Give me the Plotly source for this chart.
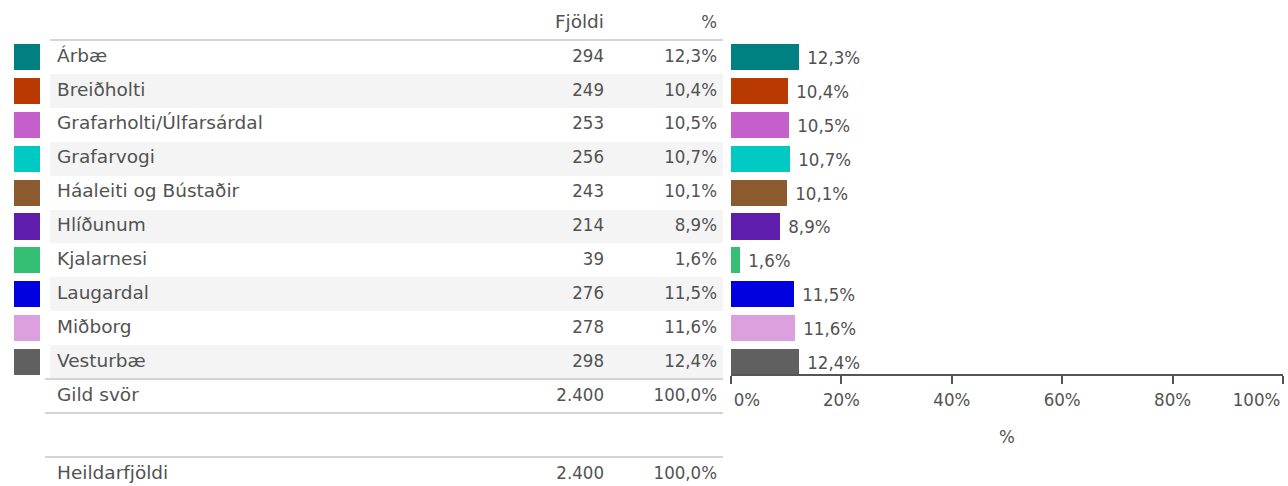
import plotly.graph_objects as go

# data
categories = ['Árbæ', 'Breiðholti', 'Grafarholti/Úlfarsárdal', 'Grafarvogi',
              'Háaleiti og Bústaðir', 'Hlíðunum', 'Kjalarnesi', 'Laugardal',
              'Miðborg', 'Vesturbæ']
counts = [294, 249, 253, 256, 243, 214, 39, 276, 278, 298]
percents = [12.3, 10.4, 10.5, 10.7, 10.1, 8.9, 1.6, 11.5, 11.6, 12.4]
colors = ['#008080', '#b83a00', '#c55fcb', '#00c8c3', '#8b5a2e',
          '#5f1dab', '#35bf74', '#0000e0', '#dda0df', '#606060']
summary_labels = ['Gild svör', 'Heildarfjöldi']
summary_counts = [2400, 2400]
summary_percents = [100.0, 100.0]
header = ['Fjöldi', '%']
ticks = [0, 20, 40, 60, 80, 100]

W, H = 1288, 486
ROW0, ROW_H = 57, 33.9
TXT = '#525252'
FONT = 'DejaVu Sans'
NUMFONT = 'DejaVu Sans Condensed, DejaVu Sans'
FS = 18.5
NB = '\u00a0'


def fmt_pct(p):
    return f'{p:.1f}'.replace('.', ',') + '%'


def fmt_n(n):
    return f'{n:,}'.replace(',', '.')


rows = list(range(len(categories)))
summary_rows = [len(categories), len(categories) + 2.3]

fig = go.Figure()

# alternating row background
fig.add_trace(go.Bar(orientation='h', y=rows, x=[673] * len(rows), base=50,
                     width=1, marker=dict(color=['#ffffff' if i % 2 == 0 else '#f4f4f4' for i in rows], line_width=0),
                     hoverinfo='skip', showlegend=False))
# colour swatches
fig.add_trace(go.Bar(orientation='h', y=rows, x=[26] * len(rows), base=14,
                     width=0.77, marker=dict(color=colors, line_width=0),
                     hoverinfo='skip', showlegend=False))

all_rows = rows + summary_rows
fig.add_trace(go.Scatter(x=[57] * len(all_rows), y=all_rows, mode='text',
                         text=categories + summary_labels, textposition='middle right',
                         textfont=dict(family=FONT, size=FS, color=TXT),
                         hoverinfo='skip', showlegend=False))
fig.add_trace(go.Scatter(x=[604], y=[-1.0], mode='text', text=[header[0]],
                         textposition='middle left',
                         textfont=dict(family=FONT, size=FS, color=TXT),
                         hoverinfo='skip', showlegend=False))
fig.add_trace(go.Scatter(x=[604] * len(all_rows), y=all_rows, mode='text',
                         text=[str(c) for c in counts] + [fmt_n(c) for c in summary_counts],
                         textposition='middle left',
                         textfont=dict(family=NUMFONT, size=FS, color=TXT),
                         hoverinfo='skip', showlegend=False))
fig.add_trace(go.Scatter(x=[717] * (len(all_rows) + 1), y=all_rows + [-1.0], mode='text',
                         text=[fmt_pct(p) for p in percents] + [fmt_pct(p) for p in summary_percents] + [header[1]],
                         textposition='middle left',
                         textfont=dict(family=NUMFONT, size=FS, color=TXT),
                         hoverinfo='skip', showlegend=False))

# percentage bars
fig.add_trace(go.Bar(orientation='h', y=rows, x=percents, xaxis='x2', yaxis='y',
                     width=0.77, marker=dict(color=colors, line_width=0),
                     text=[NB + fmt_pct(p) for p in percents], textposition='outside',
                     textfont=dict(family=NUMFONT, size=FS, color=TXT),
                     cliponaxis=False, hoverinfo='skip', showlegend=False))

# table rules
for yv, x0 in [(-0.5, 50), (9.5, 45), (10.5, 45), (11.8, 45)]:
    fig.add_shape(type='line', xref='x', yref='y', x0=x0, x1=723, y0=yv, y1=yv,
                  line=dict(color='#d4d4d4', width=2), layer='above')

ticktext = [f'{t}%' for t in ticks]
ticktext[0] = NB * 6 + ticktext[0]
ticktext[-1] = ticktext[-1] + NB * 10

fig.update_layout(
    width=W, height=H, margin=dict(l=0, r=0, t=0, b=0, pad=0, autoexpand=False),
    paper_bgcolor='white', plot_bgcolor='rgba(0,0,0,0)',
    barmode='overlay', bargap=0,
    font=dict(family=FONT, size=FS, color=TXT),
    xaxis=dict(domain=[0, 1], range=[0, W], visible=False, fixedrange=True),
    yaxis=dict(domain=[0, 1], range=[(H - ROW0) / ROW_H, -ROW0 / ROW_H], visible=False, fixedrange=True),
    xaxis2=dict(domain=[731 / W, 1283 / W], range=[0, 100], anchor='free', position=1 - 375 / H,
                tickvals=ticks, ticktext=ticktext, ticks='outside', ticklen=8, tickwidth=1.5,
                tickcolor='#555555', showline=True, linecolor='#555555', linewidth=1.5,
                showgrid=False, zeroline=False, automargin=False, ticklabeloverflow='allow',
                tickfont=dict(family=NUMFONT, size=FS, color=TXT),
                title=dict(text='%', font=dict(family=NUMFONT, size=FS, color=TXT), standoff=20),
                fixedrange=True),
)

fig.write_html('out.html', config={'displayModeBar': False},
               post_script="document.body.style.margin='0';")
